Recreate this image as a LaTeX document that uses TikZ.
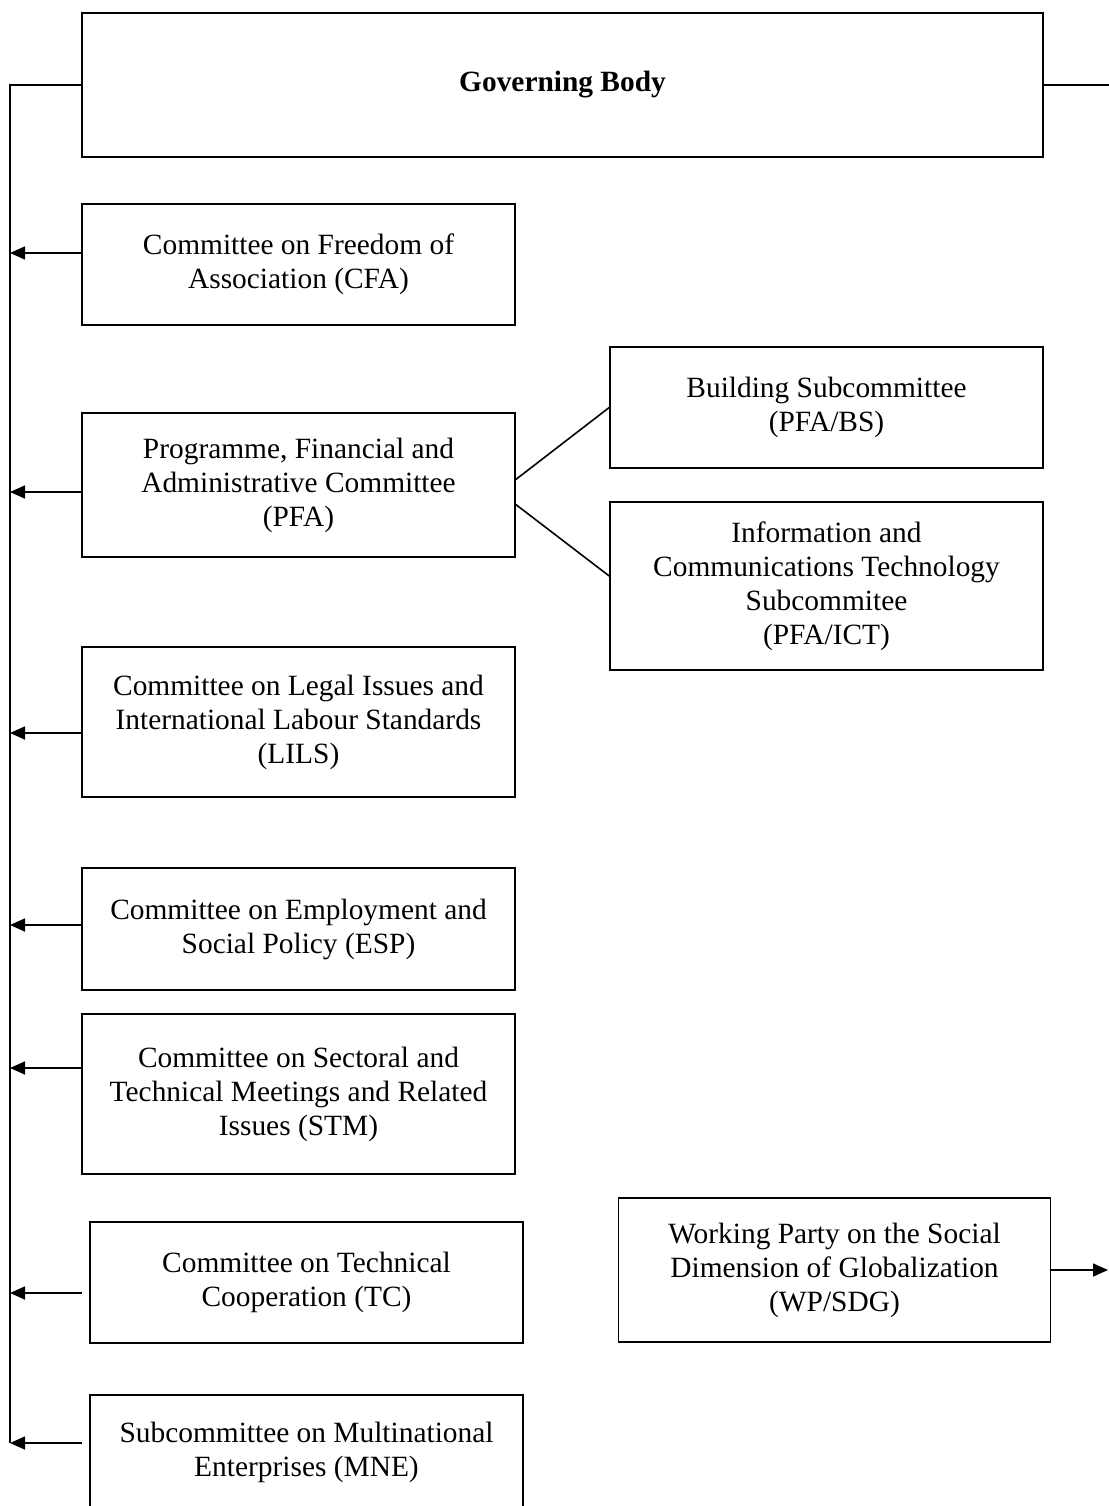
\documentclass[tikz,border=0pt]{standalone}
\usepackage{fontspec}
\setmainfont{Liberation Serif}
\usetikzlibrary{arrows.meta}
\tikzset{
    box/.style={rectangle,draw,line width=1.6pt,align=center,inner sep=0pt,
        minimum width=433pt,font=\fontsize{29.4}{34}\selectfont},
    edge/.style={-{Triangle[length=15pt,width=13pt]}}
}

\begin{document}
\begin{tikzpicture}[x=1pt,y=-1pt,line width=1.6pt]
\useasboundingbox (0,0) rectangle (1108,1506);

\node[box,minimum width=961pt,minimum height=144pt,font=\fontsize{29.4}{34}\selectfont\bfseries] (gb) at (562.5,85) {Governing Body};

\node[box,minimum height=121pt] (cfa) at (298.5,264.5) {Committee on Freedom of\\Association (CFA)};
\node[box,minimum height=144pt] (pfa) at (298.5,485) {Programme, Financial and\\Administrative Committee\\(PFA)};
\node[box,minimum height=121pt] (bs) at (826.5,407.5) {Building Subcommittee\\(PFA/BS)};
\node[box,minimum height=168pt] (ict) at (826.5,586) {Information and\\Communications Technology\\Subcommitee\\(PFA/ICT)};
\node[box,minimum height=150pt] (lils) at (298.5,722) {Committee on Legal Issues and\\International Labour Standards\\(LILS)};
\node[box,minimum height=122pt] (esp) at (298.5,929) {Committee on Employment and\\Social Policy (ESP)};
\node[box,minimum height=160pt] (stm) at (298.5,1094) {Committee on Sectoral and\\Technical Meetings and Related\\Issues (STM)};
\node[box,minimum height=121pt] (tc) at (306.5,1282.5) {Committee on Technical\\Cooperation (TC)};
\node[box,minimum width=432pt,minimum height=144pt] (wp) at (834.5,1270) {Working Party on the Social\\Dimension of Globalization\\(WP/SDG)};
\node[box,minimum height=115pt] (mne) at (306.5,1452.5) {Subcommittee on Multinational\\Enterprises (MNE)};

% spine on the left
\foreach \n/\y in {cfa/253,pfa/492,lils/733,esp/925,stm/1068,tc/1293,mne/1443}
    \coordinate (\n-in) at (10,\y);
\draw (gb.west) -- (gb.west -| mne-in) -- (mne-in);

\foreach \n in {cfa,pfa,lils,esp,stm}
    \draw[edge] (\n.west |- \n-in) -- (\n-in);
\foreach \n in {tc,mne}
    \draw[edge,shorten <=7pt] (\n.west |- \n-in) -- (\n-in);

% subcommittees of the PFA
\draw ([yshift=5.5pt]pfa.east) -- (bs.west);
\draw ([yshift=-19.5pt]pfa.east) -- ([yshift=10pt]ict.west);

% lines leaving the page on the right
\coordinate (gbout) at (1112,85);
\coordinate (wpout) at (1108,1270);
\draw (gb.east) -- (gbout);
\draw[edge] (wp.east) -- (wpout);

\end{tikzpicture}
\end{document}
